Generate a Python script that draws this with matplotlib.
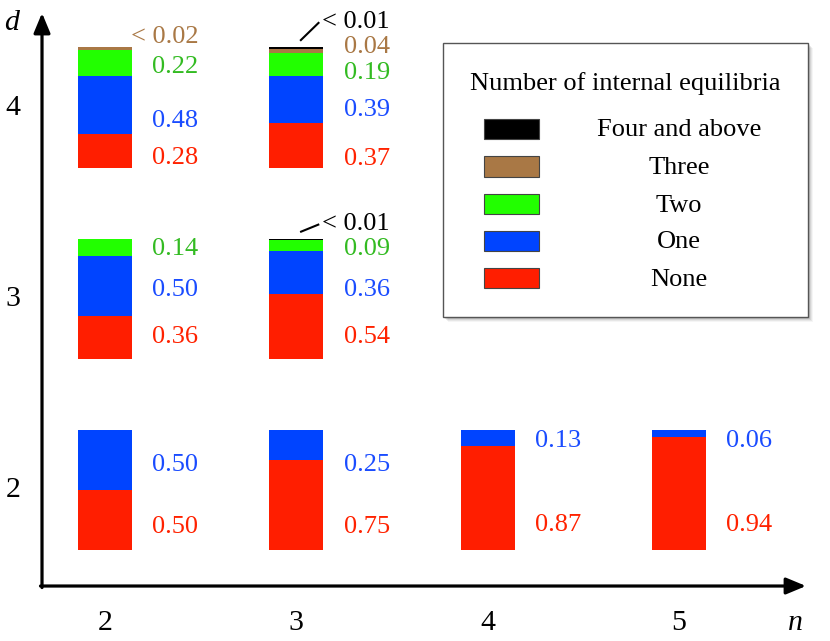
import matplotlib
matplotlib.use("Agg")
import matplotlib.pyplot as plt
from matplotlib.patches import Rectangle

plt.rcParams['font.family'] = ['Liberation Serif', 'DejaVu Serif']

# ---------------- data ----------------
n_ticks = [2, 3, 4, 5]
d_ticks = [2, 3, 4]
categories = ["None", "One", "Two", "Three", "Four and above"]

cell_n = [2, 3, 4, 5, 2, 3, 2, 3]
cell_d = [2, 2, 2, 2, 3, 3, 4, 4]
p_none = [0.50, 0.75, 0.87, 0.94, 0.36, 0.54, 0.28, 0.37]
p_one = [0.50, 0.25, 0.13, 0.06, 0.50, 0.36, 0.48, 0.39]
p_two = [0.00, 0.00, 0.00, 0.00, 0.14, 0.09, 0.22, 0.19]
p_three = [0.00, 0.00, 0.00, 0.00, 0.00, 0.00, 0.02, 0.04]
p_four = [0.00, 0.00, 0.00, 0.00, 0.00, 0.01, 0.00, 0.01]

lbl_none = ["0.50", "0.75", "0.87", "0.94", "0.36", "0.54", "0.28", "0.37"]
lbl_one = ["0.50", "0.25", "0.13", "0.06", "0.50", "0.36", "0.48", "0.39"]
lbl_two = [None, None, None, None, "0.14", "0.09", "0.22", "0.19"]
lbl_three = [None, None, None, None, None, None, "< 0.02", "0.04"]
lbl_four = [None, None, None, None, None, "< 0.01", None, "< 0.01"]

# ---------------- style / layout ----------------
bar_colors = ["#ff1e00", "#0044ff", "#22ff00", "#a97845", "#000000"]
text_colors = ["#ff2200", "#1a4cff", "#33bb22", "#a97845", "#000000"]
# label vertical positions as a fraction of the bar height (layout only)
ly_none = [0.21, 0.21, 0.225, 0.225, 0.20, 0.20, 0.10, 0.09]
ly_one = [0.73, 0.73, 0.925, 0.925, 0.59, 0.59, 0.41, 0.50]
ly_two = [0, 0, 0, 0, 0.93, 0.93, 0.86, 0.81]
ly_three = [0, 0, 0, 0, 0, 0, 1.11, 1.02]
ly_four = [0, 0, 0, 0, 0, 1.14, 0, 1.23]

W, H = 830, 641
fig = plt.figure(figsize=(W / 100, H / 100), dpi=100)
ax = fig.add_axes([0, 0, 1, 1])
ax.set_xlim(1.4511, 5.7899)
ax.set_ylim(1.2105, 4.5621)
ax.axis("off")

bar_w = 0.2823
bar_h = 0.6275
lab_dx = 0.247
lab_dy = -0.012
fs = 19

series = [p_none, p_one, p_two, p_three, p_four]
labels = [lbl_none, lbl_one, lbl_two, lbl_three, lbl_four]
lys = [ly_none, ly_one, ly_two, ly_three, ly_four]

for i, (n, d) in enumerate(zip(cell_n, cell_d)):
    bottom = d - bar_h / 2
    acc = 0.0
    for s, vals in enumerate(series):
        v = vals[i]
        if v <= 0:
            continue
        ax.bar(n, v * bar_h, width=bar_w, bottom=bottom + acc * bar_h,
               color=bar_colors[s], edgecolor="none", linewidth=0)
        acc += v
    for s, lbls in enumerate(labels):
        t = lbls[i]
        if t is None:
            continue
        y = bottom + lys[s][i] * bar_h + lab_dy
        if t.startswith("<"):
            ax.annotate(t, xy=(n + lab_dx, y), xytext=(-15.5, 0),
                        textcoords="offset points", ha="left", va="center",
                        fontsize=fs, color=text_colors[s])
            if s == 4:
                top = bottom + bar_h
                ax.plot([n + 0.02, n + 0.12], [top + 0.035, y - 0.0],
                        color="black", lw=1.5, solid_capstyle="butt")
        else:
            ax.text(n + lab_dx, y, t, ha="left", va="center",
                    fontsize=fs, color=text_colors[s])

# axes with arrows
x0, y0 = 1.6707, 1.498
ax.annotate("", xy=(x0, 4.494), xytext=(x0, y0 - 0.008),
            arrowprops=dict(arrowstyle="-|>,head_length=0.6,head_width=0.25",
                            mutation_scale=20, lw=2.3, color="black",
                            shrinkA=0, shrinkB=0))
ax.annotate("", xy=(5.6645, y0), xytext=(x0 - 0.008, y0),
            arrowprops=dict(arrowstyle="-|>,head_length=0.6,head_width=0.25",
                            mutation_scale=20, lw=2.3, color="black",
                            shrinkA=0, shrinkB=0))

for n in n_ticks:
    ax.text(n, 1.3046, str(n), ha="center", va="center", fontsize=21.5)
for d in d_ticks:
    ax.text(1.519, d, str(d), ha="center", va="center", fontsize=21.5)
ax.text(5.607, 1.3046, "n", ha="center", va="center", fontsize=21.5, style="italic")
ax.text(1.514, 4.442, "d", ha="center", va="center", fontsize=21.5, style="italic")

# legend (manual, centred labels)
def fx(px):
    return px / W

def fy(py):
    return 1 - py / H

lx0, ly0, lx1, ly1 = 443, 43, 808, 317
for k, a in enumerate([0.10, 0.08, 0.06, 0.04]):
    off = 2 + k
    fig.patches.append(Rectangle((fx(lx0 + off), fy(ly1 + off)),
                                 fx(lx1 - lx0), (ly1 - ly0) / H,
                                 transform=fig.transFigure, facecolor="black",
                                 alpha=a, edgecolor="none", zorder=5))
fig.patches.append(Rectangle((fx(lx0), fy(ly1)), fx(lx1 - lx0), (ly1 - ly0) / H,
                             transform=fig.transFigure, facecolor="white",
                             edgecolor="#555555", lw=1.0, zorder=6))
fig.text(fx(625), fy(84), "Number of internal equilibria", ha="center",
         va="center", fontsize=19, zorder=7)
row_y = [129, 166.5, 204, 241, 278]
order = [4, 3, 2, 1, 0]
for r, s in enumerate(order):
    cy = row_y[r]
    fig.patches.append(Rectangle((fx(484), fy(cy + 10.3)), fx(55), 20.5 / H,
                                 transform=fig.transFigure,
                                 facecolor=bar_colors[s], edgecolor="#444444",
                                 lw=0.8, zorder=7))
    fig.text(fx(679), fy(cy + 1.5), categories[s], ha="center", va="center",
             fontsize=19, zorder=7)

fig.savefig("out.png", dpi=100)
